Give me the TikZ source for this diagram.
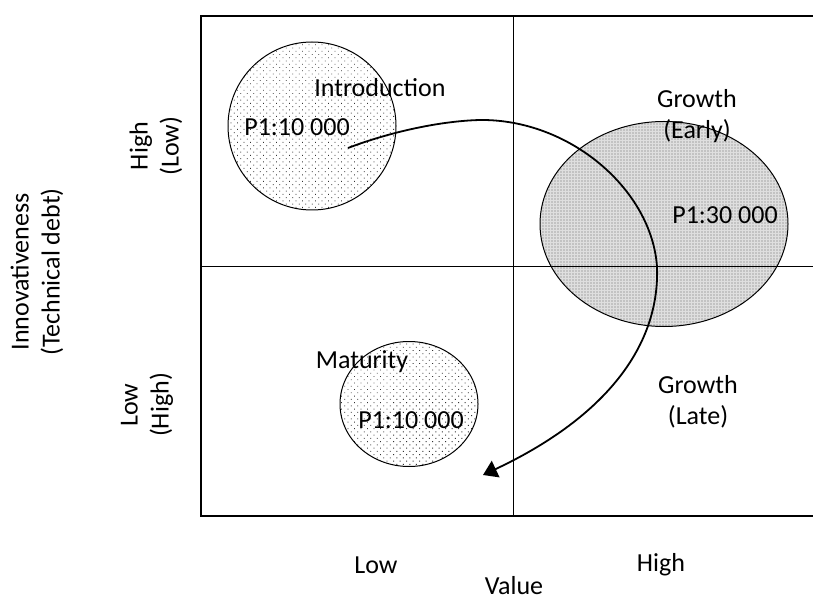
\documentclass[tikz,border=0pt]{standalone}
\usepackage{fontspec}
\setmainfont{Carlito}
\usetikzlibrary{shapes.geometric}
\usetikzlibrary{patterns.meta}
\usetikzlibrary{arrows.meta}

\begin{document}
\begin{tikzpicture}
[
x=1pt, y=-1pt,
phase-a/.style={ellipse,draw,line width=1pt,inner sep=0pt,
  preaction={fill=white},
  pattern={Dots[distance=4.6pt,angle=45,radius=0.6pt]}, pattern color=black!80},
phase-b/.style={ellipse,draw,line width=1pt,inner sep=0pt,
  preaction={fill=gray!25},
  pattern={Dots[distance=3pt,radius=0.6pt]}, pattern color=black!60},
text-a/.style={black,inner sep=0pt,align=center,font=\fontsize{26}{31}\selectfont},
]
\useasboundingbox (0,0) rectangle (813,601);
% the three phases
\node (intro) [phase-a, minimum width=168pt, minimum height=168pt] at (312,126) {};
\node (early) [phase-b, minimum width=248pt, minimum height=205pt] at (664,224) {};
\node (mat)   [phase-a, minimum width=138pt, minimum height=125pt] at (409,404) {};
% quadrants
\draw [line width=1.5pt] (814,16) -- (201,16) -- (201,516) -- (814,516);
\draw [line width=1pt] (513,16) -- (513,516);
\draw [line width=1pt] (201,267) -- (814,267);
% labels
\node (intro-l) [text-a] at (380,88)  {Introduction};
\node (intro-p) [text-a] at (297,127) {P1:10 000};
\node (early-l) [text-a] at (697,116) {Growth\\(Early)};
\node (early-p) [text-a] at (725,215) {P1:30 000};
\node (mat-l)   [text-a] at (362,362) {Maturity};
\node (mat-p)   [text-a] at (411,420) {P1:10 000};
\node (late-l)  [text-a] at (698,402) {Growth\\(Late)};
\node (x-low)   [text-a] at (376,565) {Low};
\node (x-high)  [text-a] at (661,565) {High};
\node (x-title) [text-a] at (514,586) {Value};
\node (y-title) [text-a, rotate=90] at (37,272)  {Innovativeness\\(Technical debt)};
\node (y-high)  [text-a, rotate=90] at (156,146) {High\\(Low)};
\node (y-low)   [text-a, rotate=90] at (147,405) {Low\\(High)};
% life cycle path
\coordinate (a0) at (348,148);
\coordinate (a3) at (480,120);
\coordinate (a2) at (657,267);
\coordinate (a1) at (483,475);
\draw [line width=1.8pt, -{Triangle[length=14pt,width=18pt]}]
  (a0) .. controls (390,132) and (440,121) .. (a3)
       .. controls (570,119) and (652,190) .. (a2)
       .. controls (660,350) and (600,420) .. (a1);
\end{tikzpicture}
\end{document}
